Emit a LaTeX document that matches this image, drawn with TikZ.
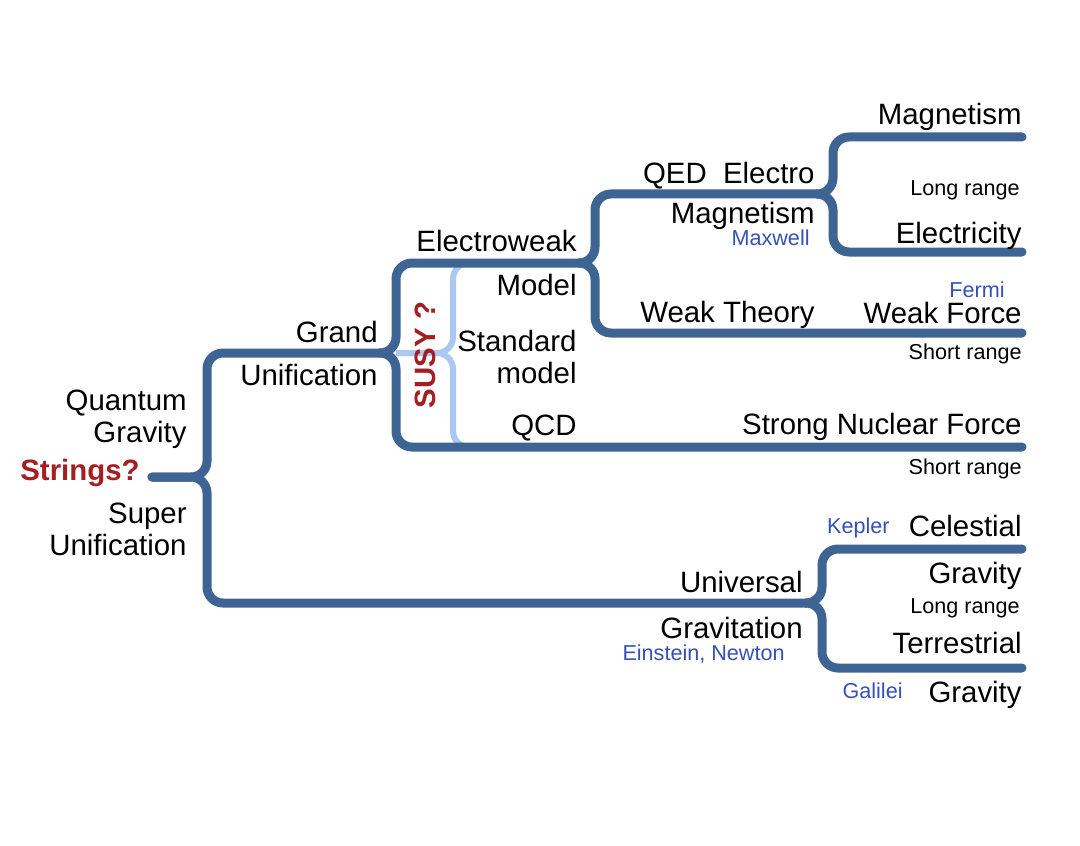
\documentclass[tikz,border=0pt]{standalone}
\usepackage{fontspec}
\setmainfont{Liberation Sans}
\usepackage{tikz}
\usetikzlibrary{positioning}
\definecolor{trunkblue}{RGB}{62,100,148}
\definecolor{susyblue}{RGB}{170,200,240}
\definecolor{stringred}{RGB}{165,30,35}
\definecolor{nameblue}{RGB}{55,80,185}
\tikzstyle{trunk} = [line width=4.5pt, draw=trunkblue, rounded corners=8pt, line cap=round]
\tikzstyle{bracket} = [line width=3pt, draw=susyblue, rounded corners=8pt]
\tikzstyle{bigtext} = [font=\fontsize{14.7}{16}\selectfont, inner sep=0pt, anchor=base east, align=right]
\tikzstyle{smalltext} = [font=\fontsize{10.8}{12}\selectfont, inner sep=0pt, anchor=base east]
\tikzstyle{nametext} = [smalltext, text=nameblue]
\tikzstyle{redtext} = [font=\bfseries\fontsize{14.7}{16}\selectfont, inner sep=0pt, text=stringred]

\begin{document}
\begin{tikzpicture}[x=0.5pt, y=-0.5pt]
  \useasboundingbox[fill=white] (0,0) rectangle (1080,845);
  % split points (where a line meets its brace) and free ends
  \coordinate (root) at (152,477);
  \coordinate (gu) at (380,353);
  \coordinate (ew) at (579,263);
  \coordinate (qed) at (817,194);
  \coordinate (ug) at (806,603);
  \coordinate (magend) at (1022,137);
  \coordinate (elecend) at (1022,252);
  \coordinate (weakend) at (1022,333);
  \coordinate (strongend) at (1022,447);
  \coordinate (celend) at (1022,549);
  \coordinate (terend) at (1022,668);
  \coordinate (susy) at (396,353);
  \coordinate (susytop) at (490,263);
  \coordinate (susybot) at (490,447);
  % light blue brace of the standard model, under the trunk
  \draw [bracket] (susy) -- ++(57,0) |- (susytop);
  \draw [bracket] (susy) -- ++(57,0) |- (susybot);
  % the tree
  \draw [trunk] (root) -- ++(55,0) |- (gu);
  \draw [trunk] (root) -- ++(55,0) |- (ug);
  \draw [trunk] (gu) -- ++(16,0) |- (ew);
  \draw [trunk] (gu) -- ++(16,0) |- (strongend);
  \draw [trunk] (ew) -- ++(16,0) |- (qed);
  \draw [trunk] (ew) -- ++(16,0) |- (weakend);
  \draw [trunk] (qed) -- ++(16,0) |- (magend);
  \draw [trunk] (qed) -- ++(16,0) |- (elecend);
  \draw [trunk] (ug) -- ++(16,0) |- (celend);
  \draw [trunk] (ug) -- ++(16,0) |- (terend);
  % left side
  \node (strings) [redtext, anchor=base east] at (140,480) {Strings?};
  \node (qg) [bigtext] at (187,442) {Quantum\\Gravity};
  \node (su) [bigtext] at (187,555) {Super\\Unification};
  \node (grand) [bigtext] at (378,342) {Grand};
  \node (unif) [bigtext] at (378,385) {Unification};
  \node (susyq) [redtext, rotate=90] at (425,355) {SUSY ?};
  % standard model
  \node (eweak) [bigtext] at (577,251) {Electroweak};
  \node (model) [bigtext] at (577,295) {Model};
  \node (stdmodel) [bigtext] at (577,383) {Standard\\model};
  \node (qcd) [bigtext] at (577,435) {QCD};
  % electroweak branch
  \node (qedel) [bigtext] at (815,184) {QED\ \ Electro};
  \node (qedmag) [bigtext] at (815,223) {Magnetism};
  \node (maxwell) [nametext] at (810,245) {Maxwell};
  \node (weakth) [bigtext] at (815,322) {Weak Theory};
  % forces on the right
  \node (mag) [bigtext] at (1022,125) {Magnetism};
  \node (lr1) [smalltext] at (1020,196) {Long range};
  \node (elec) [bigtext] at (1022,243) {Electricity};
  \node (fermi) [nametext] at (1005,297) {Fermi};
  \node (weakf) [bigtext] at (1022,323) {Weak Force};
  \node (sr1) [smalltext] at (1022,359) {Short range};
  \node (strong) [bigtext] at (1022,434) {Strong Nuclear Force};
  \node (sr2) [smalltext] at (1022,474) {Short range};
  % gravitation
  \node (univ) [bigtext] at (803,592) {Universal};
  \node (grav) [bigtext] at (803,638) {Gravitation};
  \node (einst) [nametext] at (785,660) {Einstein, Newton};
  \node (kepler) [nametext] at (890,533) {Kepler};
  \node (cel) [bigtext] at (1022,536) {Celestial};
  \node (celgrav) [bigtext] at (1022,583) {Gravity};
  \node (lr2) [smalltext] at (1020,613) {Long range};
  \node (ter) [bigtext] at (1022,653) {Terrestrial};
  \node (galilei) [nametext] at (903,698) {Galilei};
  \node (tergrav) [bigtext] at (1022,702) {Gravity};
\end{tikzpicture}
\end{document}
